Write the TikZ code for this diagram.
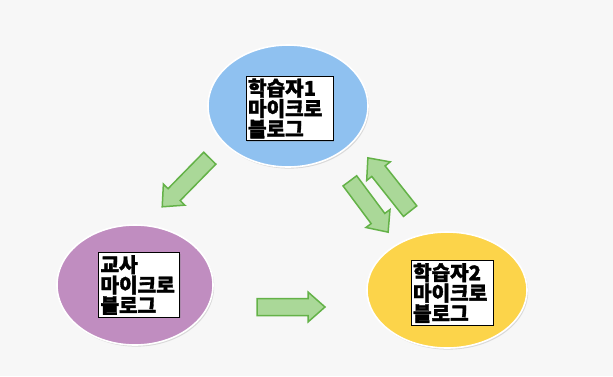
\documentclass[tikz,border=0pt]{standalone}
\usepackage{fontspec}
\newfontfamily\kr{Noto Sans CJK KR}[BoldFeatures={FakeBold=1.6}]
\usetikzlibrary{shapes.geometric,shadows}
\definecolor{bgc}{RGB}{247,247,247}
\definecolor{blueblob}{RGB}{143,193,240}
\definecolor{purpleblob}{RGB}{192,141,192}
\definecolor{yellowblob}{RGB}{252,212,74}
\definecolor{arrfill}{RGB}{170,216,152}
\definecolor{arredge}{RGB}{100,178,72}
\tikzset{
  blob/.style={ellipse, draw=white, line width=1.6pt, inner sep=0pt,
    drop shadow={opacity=0.25, shadow xshift=1.2pt, shadow yshift=-1.6pt}},
  label box/.style={draw=black, line width=0.9pt, fill=white, align=left,
    font=\kr\bfseries\fontsize{20.2}{20.4}\selectfont, inner xsep=2pt, inner ysep=2.5pt,
    anchor=center,
    drop shadow={opacity=0.3, shadow xshift=1pt, shadow yshift=-1pt}},
  flow/.style={fill=arrfill, draw=arredge, line width=1.5pt, line join=miter}
}
% block arrow: name, centre, angle, length
\newcommand\blockarrow[4]{%
  \begin{scope}[shift={(#2)}, rotate=#3]
    \coordinate (#1) at (0,0);
    \filldraw[flow] (-#4/2,-8.5) -- (#4/2-17,-8.5) -- (#4/2-17,-15) -- (#4/2,0)
      -- (#4/2-17,15) -- (#4/2-17,8.5) -- (-#4/2,8.5) -- cycle;
  \end{scope}}
\begin{document}
\begin{tikzpicture}[x=1pt,y=-1pt]
  \fill[bgc] (0,0) rectangle (613,376);
  \useasboundingbox (0,0) rectangle (613,376);

  % three blogs
  \node[blob, fill=blueblob, minimum width=160pt, minimum height=122pt] (s1) at (288,106) {};
  \node[blob, fill=purpleblob, minimum width=156pt, minimum height=120pt] (t) at (135,285) {};
  \node[blob, fill=yellowblob, minimum width=160pt, minimum height=116pt] (s2) at (447,290) {};

  \node[label box, text width=83pt] (s1l) at (289.5,108.5) {학습자1\\마이크로\\블로그};
  \node[label box, text width=77pt] (tl) at (139,285) {교사\\마이크로\\블로그};
  \node[label box, text width=78pt] (s2l) at (452,293) {학습자2\\마이크로\\블로그};

  % links between the blogs
  \blockarrow{a1}{186,182.5}{225.6}{68}
  \blockarrow{a2}{369,206.5}{-53.3}{64}
  \blockarrow{a3}{389,184.5}{128.4}{68}
  \blockarrow{a4}{291,307}{0}{68}
\end{tikzpicture}
\end{document}
